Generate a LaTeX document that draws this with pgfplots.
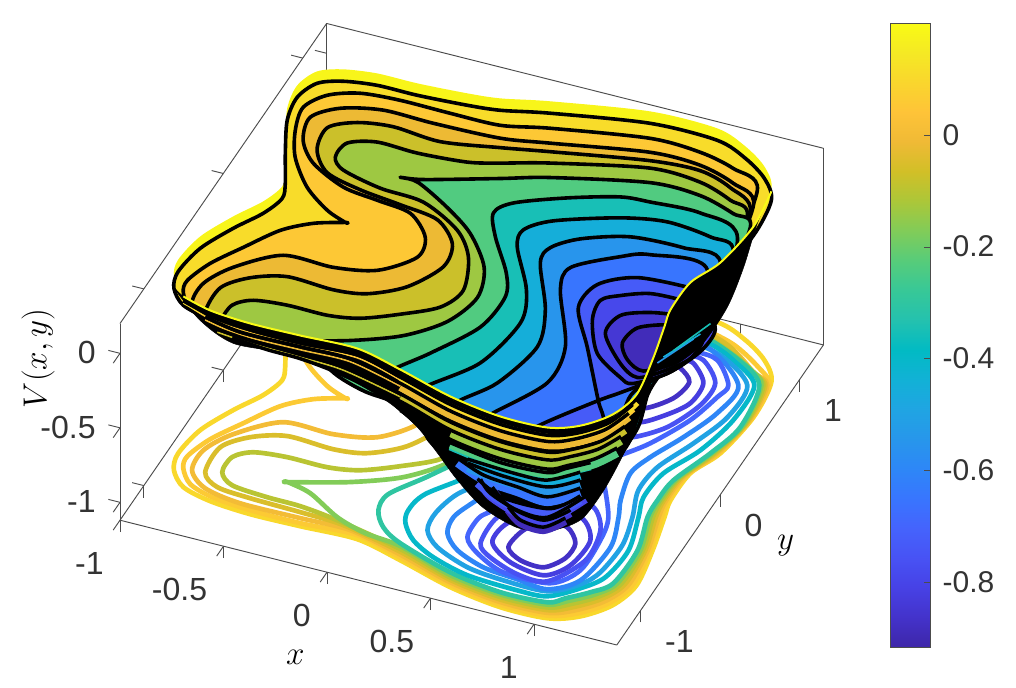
\documentclass[border=0pt]{standalone}
\usepackage{pgfplots}
\usepackage{pgfplotstable}
\usepackage{fontspec}
\setmainfont{Liberation Sans}
\pgfplotsset{compat=1.18}
\pgfplotsset{colormap={parula}{
rgb=(.2422,.1504,.6603) rgb=(.2647,.1978,.7952) rgb=(.2783,.2559,.8991) rgb=(.2810,.3228,.9579)
rgb=(.2699,.3892,.9906) rgb=(.2206,.4603,.9973) rgb=(.1786,.5289,.9682) rgb=(.1540,.5902,.9218)
rgb=(.1248,.6459,.8883) rgb=(.0689,.6948,.8394) rgb=(.0067,.7312,.7660) rgb=(.1408,.7584,.6842)
rgb=(.2161,.7843,.5923) rgb=(.3406,.8008,.4789) rgb=(.5044,.7993,.3480) rgb=(.6720,.7793,.2227)
rgb=(.8203,.7498,.1535) rgb=(.9393,.7288,.2100) rgb=(.9970,.7659,.2199) rgb=(.9786,.8386,.1766)
rgb=(.9597,.9135,.1423) rgb=(.9769,.9839,.0805)}}

% level curves of V, outermost first
\pgfplotstableread{
x y
-.92 -.83
-.95 -.70
-.925 -.486
-.846 -.277
-.765 -.11
-.729 .035
-.759 .152
-.844 .374
-.93 .622
-.954 .81
-.912 .95
-.81 1.014
-.658 1.047
-.466 1.048
-.231 1.067
-.081 1.091
.133 1.162
.574 1.273
.898 1.272
1.065 1.191
1.2 1.078
1.291 .929
1.317 .636
1.283 .309
1.216 .106
1.211 -.131
1.234 -.268
1.279 -.534
1.312 -.823
1.27 -1.014
1.169 -1.156
1.039 -1.231
.813 -1.237
.551 -1.182
.268 -1.076
.031 -1.0
-.241 -1.01
-.481 -1.014
-.682 -.992
-.833 -.938
}\tabA
\pgfplotstableread{
x y
-.887 -.798
-.904 -.702
-.858 -.534
-.767 -.354
-.663 -.16
-.547 -.047
-.418 .019
-.418 .019
-.526 .075
-.675 .208
-.809 .407
-.885 .606
-.918 .791
-.853 .925
-.723 1.001
-.539 1.023
-.296 1.02
-.056 1.024
.159 1.095
.599 1.206
.845 1.196
1.026 1.138
1.188 1.021
1.292 .902
1.313 .620
1.276 .306
1.208 .092
1.202 -.135
1.222 -.273
1.269 -.539
1.295 -.827
1.249 -1.005
1.15 -1.138
1.031 -1.211
.806 -1.218
.544 -1.164
.26 -1.055
.02 -.97
-.249 -.987
-.492 -.984
-.685 -.959
-.813 -.903
}\tabB
\pgfplotstableread{
x y
-.845 -.797
-.855 -.628
-.778 -.455
-.606 -.273
-.366 -.269
-.175 -.209
-.048 -.039
-.072 .124
-.201 .273
-.374 .308
-.551 .342
-.743 .463
-.85 .614
-.886 .797
-.788 .919
-.606 .985
-.363 .981
-.044 .995
.176 1.051
.613 1.169
.856 1.166
1.044 1.094
1.189 .969
1.283 .898
1.309 .604
1.269 .303
1.2 .078
1.193 -.139
1.21 -.278
1.259 -.544
1.278 -.832
1.228 -.996
1.131 -1.12
1.023 -1.191
.799 -1.199
.537 -1.146
.252 -1.034
-.023 -.946
-.263 -.95
-.553 -.952
-.74 -.906
}\tabC
\pgfplotstableread{
x y
-.785 -.788
-.794 -.575
-.699 -.445
-.549 -.368
-.323 -.38
-.172 -.346
-.027 -.22
.065 -.006
.037 .181
-.093 .331
-.289 .373
-.495 .409
-.68 .474
-.787 .625
-.807 .807
-.699 .9
-.538 .936
-.303 .913
-.039 .98
.179 1.043
.616 1.162
.851 1.181
1.023 1.111
1.176 .964
1.275 .895
1.305 .588
1.262 .3
1.192 .064
1.184 -.143
1.198 -.283
1.249 -.549
1.261 -.836
1.207 -.987
1.112 -1.102
1.015 -1.171
.792 -1.18
.53 -1.128
.244 -1.013
-.065 -.922
-.28 -.906
-.526 -.896
-.693 -.875
}\tabD
\pgfplotstableread{
x y
-.715 -.756
-.717 -.626
-.644 -.551
-.49 -.524
-.296 -.524
-.152 -.485
.001 -.381
.146 -.254
.193 -.087
.12 .167
-.003 .346
-.222 .49
-.439 .513
-.642 .578
-.712 .659
-.703 .785
-.582 .848
-.386 .841
-.155 .867
-.016 .921
.19 1.014
.616 1.162
.862 1.151
1.037 1.074
1.155 .98
1.267 .891
1.301 .572
1.255 .297
1.184 .05
1.175 -.147
1.186 -.288
1.239 -.554
1.244 -.841
1.186 -.978
1.093 -1.084
1.007 -1.151
.785 -1.161
.523 -1.11
.236 -.992
-.105 -.897
-.297 -.862
-.459 -.857
-.637 -.834
}\tabE
\pgfplotstableread{
x y
-.415 -.707
-.415 -.707
-.16 -.591
.045 -.456
.186 -.271
.242 -.039
.185 .196
.032 .421
-.137 .571
-.327 .702
-.408 .709
-.408 .709
-.308 .737
-.002 .884
.201 .984
.628 1.132
.871 1.129
1.058 1.057
1.167 .986
1.259 .887
1.297 .556
1.248 .294
1.176 .036
1.166 -.151
1.174 -.293
1.229 -.559
1.227 -.845
1.165 -.969
1.074 -1.066
.999 -1.131
.778 -1.142
.516 -1.092
.228 -.971
.047 -.941
-.113 -.875
-.292 -.748
}\tabF
\pgfplotstableread{
x y
.036 -.747
.031 -.61
.151 -.392
.283 -.107
.3 .161
.236 .341
.089 .587
.013 .76
.067 .871
.274 1.008
.49 1.114
.628 1.132
.865 1.144
1.086 1.036
1.25 .884
1.291 .538
1.242 .291
1.166 .022
1.157 -.155
1.164 -.299
1.217 -.562
1.211 -.85
1.142 -.959
1.056 -1.05
.993 -1.113
.771 -1.126
.508 -1.072
.22 -.95
.104 -.863
}\tabG
\pgfplotstableread{
x y
.184 -.792
.159 -.691
.183 -.541
.342 -.262
.394 .108
.325 .363
.165 .664
.142 .801
.24 .923
.508 1.07
.712 1.127
.932 1.096
1.072 1.02
1.23 .874
1.242 .577
1.192 .294
1.105 .055
1.091 -.159
1.127 -.316
1.18 -.579
1.161 -.82
1.089 -.949
.976 -1.069
.835 -1.081
.587 -1.062
.395 -.992
.265 -.904
}\tabH
\pgfplotstableread{
x y
.295 -.804
.279 -.663
.315 -.482
.427 -.268
.489 .073
.417 .361
.263 .699
.261 .829
.36 .95
.56 1.058
.809 1.076
1.005 1.033
1.201 .861
1.21 .588
1.144 .333
1.063 .088
1.05 -.117
1.102 -.327
1.14 -.553
1.126 -.793
1.078 -.919
.962 -1.032
.75 -1.033
.564 -1.003
.384 -.911
}\tabI
\pgfplotstableread{
x y
.385 -.788
.365 -.659
.398 -.532
.453 -.386
.59 -.064
.562 .236
.38 .647
.358 .829
.533 1.003
.65 1.073
.928 1.068
1.164 .845
1.156 .6
1.085 .359
1.005 .149
.969 -.006
1.005 -.223
1.045 -.353
1.097 -.59
1.067 -.89
.956 -1.017
.804 -.999
.63 -.974
.475 -.896
}\tabJ
% this level runs through the saddle between the wells
\pgfplotstableread{
x y
.479 -.781
.471 -.62
.51 -.533
.658 -.241
.808 .009
.877 .109
.966 .253
1.065 .498
1.111 .718
1.123 .826
1.006 .991
.882 1.013
.62 .99
.475 .864
.462 .659
.613 .38
.808 .009
.878 -.108
1.003 -.372
1.035 -.556
1.038 -.816
.951 -.967
.727 -.974
.566 -.881
}\tabK
\pgfplotstableread{
x y
.531 .656
.507 .819
.576 .892
.693 .962
.849 .973
.949 .965
1.063 .817
1.064 .627
.99 .403
.875 .264
.809 .286
.645 .421
}\tabLb
\pgfplotstableread{
x y
.648 -.427
.778 -.325
.913 -.325
1.007 -.482
1.031 -.732
.934 -.958
.79 -.962
.63 -.887
.55 -.801
.546 -.578
}\tabLa
\pgfplotstableread{
x y
.596 .65
.607 .811
.721 .888
.854 .922
.916 .924
1.014 .795
1.017 .623
.948 .488
.853 .384
.743 .456
}\tabMb
\pgfplotstableread{
x y
.714 -.476
.888 -.424
.994 -.575
.983 -.797
.901 -.921
.728 -.887
.596 -.772
.604 -.603
}\tabMa
\pgfplotstableread{
x y
.672 .666
.691 .805
.806 .883
.877 .863
.953 .777
.933 .628
.838 .498
.741 .551
}\tabNb
\pgfplotstableread{
x y
.758 -.526
.862 -.522
.941 -.625
.942 -.754
.878 -.862
.763 -.853
.676 -.779
.69 -.625
}\tabNa
% outer side of the bowl: rim in front, then the lower edge it shows
\pgfplotstableread{
x y z
1.291 .929 .16
1.317 .636 .16
1.283 .309 .16
1.216 .106 .16
1.211 -.131 .16
1.234 -.268 .16
1.279 -.534 .16
1.312 -.823 .16
1.27 -1.014 .16
1.169 -1.156 .16
1.039 -1.231 .16
.813 -1.237 .16
.551 -1.182 .16
.268 -1.076 .16
.031 -1.0 .16
-.241 -1.01 .16
-.481 -1.014 .16
-.682 -.992 .16
-.833 -.938 .16
-.91 -.878 .16
-.721 -1.018 .1
-.562 -1.016 0
-.35 -.938 -.05
-.166 -.916 -.1
-.008 -.896 -.17
.15 -.894 -.25
.307 -.963 -.3
.421 -1.007 -.4
.537 -1.059 -.5
.638 -.996 -.7
.81 -1.014 -.76
.878 -.862 -.87
.974 -.862 -.82
1.053 -.817 -.76
1.085 -.647 -.7
1.11 -.497 -.6
1.117 -.303 -.5
1.105 -.109 -.4
1.131 -.114 -.3
1.004 .495 -.76
1.119 .522 -.6
1.201 .61 -.4
1.253 .677 -.17
1.256 .843 0
}\tabWall

\newcommand{\floorline}[2]{\addplot3[color of colormap={#2 of parula},line width=3.5pt,smooth cycle,line join=round] table[x=x,y=y,z index=1,z expr=-1.12] {#1};}
\newcommand{\bowl}[4]{\addplot3[color of colormap={#3 of parula},fill=.,draw=black,line width=2.7pt,smooth cycle,line join=round,#4] table[x=x,y=y,z index=1,z expr=#2] {#1};}
\newcommand{\band}[5]{\addplot3[color of colormap={#3 of parula},line width=6pt,smooth,skip coords between index={0}{#4},skip coords between index={#5}{99}] table[x=x,y=y,z index=1,z expr=#2] {#1};}
\newcommand{\wline}[4]{\addplot3[black,line width=2.6pt,smooth,skip coords between index={0}{#3},skip coords between index={#4}{99}] table[x=x,y=y,z index=1,z expr=#2] {#1};}
\newcommand{\streak}[5]{\addplot3[color of colormap={#3 of parula},line width=1.2pt,smooth,skip coords between index={0}{#4},skip coords between index={#5}{99}] table[x=x,y=y,z index=1,z expr=#2] {#1};}

\begin{document}
\begin{tikzpicture}
\path[use as bounding box] (0,0) rectangle (762pt,516pt);
\begin{axis}[
at={(90pt,32.25pt)},anchor=south west,
x={(155.25pt,-39pt)},y={(59.6pt,86.55pt)},z={(0pt,111.75pt)},
xmin=-1,xmax=1.4,ymin=-1.3,ymax=1.3,zmin=-1.12,zmax=.2,
clip=false,
xtick={-1,-.5,0,.5,1},xticklabels={-1,-0.5,0,0.5,1},
ytick={-1,0,1},yticklabels={-1,0,1},
ztick={-1,-.5,0},zticklabels={-1,-0.5,0},
xtick pos=left,ytick pos=left,ztick pos=left,
tick align=outside,major tick length=9pt,
axis line style={black!70,line width=.7pt},tick style={black!70,line width=.7pt},
tick label style={font=\fontsize{24}{26}\selectfont,text=black!80,inner sep=0pt},
xticklabel style={anchor=north east,xshift=-7pt,yshift=-16.5pt},
yticklabel style={anchor=west,xshift=9.5pt,yshift=-21pt},
zticklabel style={anchor=east,xshift=-13pt,yshift=8pt},
xlabel={\fontsize{24}{26}\selectfont$x$},
ylabel={\fontsize{24}{26}\selectfont$y$},
zlabel={\fontsize{24}{26}\selectfont$V(x,y)$},
xlabel style={at={(axis cs:.111,-1.988,-1.12)},anchor=center,rotate=0},
ylabel style={at={(axis cs:1.812,-.25,-1.12)},anchor=center,rotate=0},
zlabel style={at={(axis cs:-1.797,-.255,-1.12)},anchor=center,rotate=0},
]
% contours on the floor
\floorline{\tabA}{911}
\floorline{\tabB}{875}
\floorline{\tabC}{821}
\floorline{\tabD}{776}
\floorline{\tabE}{731}
\floorline{\tabF}{668}
\floorline{\tabG}{552}
\floorline{\tabH}{462}
\floorline{\tabI}{373}
\floorline{\tabJ}{283}
\floorline{\tabK}{194}
\floorline{\tabLa}{140}
\floorline{\tabLb}{140}
\floorline{\tabMa}{86}
\floorline{\tabMb}{86}
\floorline{\tabNa}{41}
\floorline{\tabNb}{41}
% inside of the bowl, top down
\addplot3[color of colormap={985 of parula},fill=.,draw=none,smooth cycle] table[x=x,y=y,z index=1,z expr=.18] {\tabA};
\bowl{\tabA}{.1}{920}{}
\bowl{\tabB}{.06}{870}{skip coords between index={23}{25}}
\bowl{\tabC}{0}{805}{skip coords between index={23}{25}}
\bowl{\tabD}{-.05}{754}{skip coords between index={24}{26}}
\bowl{\tabE}{-.1}{700}{skip coords between index={25}{27}}
\bowl{\tabF}{-.17}{610}{skip coords between index={19}{21}}
\bowl{\tabG}{-.3}{507}{skip coords between index={14}{16},skip coords between index={27}{29}}
\bowl{\tabH}{-.4}{418}{skip coords between index={0}{1},skip coords between index={13}{15},skip coords between index={25}{27}}
\bowl{\tabI}{-.5}{328}{skip coords between index={12}{14},skip coords between index={24}{25}}
\bowl{\tabJ}{-.6}{238}{skip coords between index={11}{13}}
\bowl{\tabK}{-.7}{167}{skip coords between index={8}{10}}
\bowl{\tabLa}{-.76}{113}{}
\bowl{\tabLb}{-.76}{113}{}
\bowl{\tabMa}{-.82}{64}{}
\bowl{\tabMb}{-.82}{64}{}
\bowl{\tabNa}{-.87}{23}{}
\bowl{\tabNb}{-.87}{23}{}
% outside of the bowl
\addplot3[black,fill=black,smooth cycle] table[x=x,y=y,z=z] {\tabWall};
\streak{\tabI}{-.42}{328}{14}{16}
\streak{\tabH}{-.34}{418}{15}{17}
\streak{\tabG}{-.25}{507}{16}{18}
\streak{\tabD}{-.08}{754}{37}{42}
\streak{\tabC}{.01}{805}{36}{41}
\streak{\tabB}{.07}{870}{36}{42}
\streak{\tabA}{.115}{920}{34}{40}
\band{\tabNa}{-.87}{23}{3}{7}
\band{\tabMa}{-.77}{64}{3}{7}
\band{\tabLa}{-.71}{113}{4}{9}
\band{\tabK}{-.65}{167}{20}{24}
\band{\tabJ}{-.535}{238}{19}{24}
\band{\tabI}{-.455}{328}{20}{24}
\band{\tabH}{-.365}{418}{21}{25}
\band{\tabG}{-.275}{507}{22}{27}
\band{\tabF}{-.245}{610}{26}{32}
\band{\tabE}{-.16}{700}{32}{38}
\band{\tabD}{-.085}{754}{31}{38}
\band{\tabC}{.005}{805}{30}{37}
\band{\tabB}{.065}{870}{30}{37}
\band{\tabA}{.11}{920}{28}{35}
\wline{\tabNa}{-.85}{3}{7}
\wline{\tabMa}{-.75}{3}{7}
\wline{\tabLa}{-.69}{4}{9}
\wline{\tabK}{-.62}{20}{24}
\wline{\tabJ}{-.5}{19}{24}
\wline{\tabI}{-.42}{20}{24}
\wline{\tabH}{-.34}{21}{25}
\wline{\tabG}{-.25}{22}{27}
\wline{\tabF}{-.21}{26}{33}
\wline{\tabE}{-.13}{32}{43}
\wline{\tabD}{-.06}{31}{42}
\wline{\tabC}{.03}{30}{41}
\wline{\tabB}{.09}{30}{42}
\wline{\tabA}{.13}{28}{40}
\addplot3[color of colormap={1000 of parula},line width=1.5pt,smooth,skip coords between index={0}{21}] table[x=x,y=y,z index=1,z expr=.16] {\tabA};
\end{axis}
% colour bar
\begin{axis}[
at={(667.5pt,30.75pt)},anchor=south west,
width=30pt,height=468pt,scale only axis,
xmin=0,xmax=1,ymin=-.916,ymax=.2,
xtick=\empty,ytick={-.8,-.6,-.4,-.2,0},yticklabels={-0.8,-0.6,-0.4,-0.2,0},
ytick pos=right,yticklabel pos=right,tick align=inside,major tick length=4.5pt,
axis line style={black!70},tick style={black!70},
tick label style={font=\fontsize{22.5}{24}\selectfont,text=black!80},
yticklabel style={xshift=6pt},
axis on top,
]
\addplot[surf,shader=interp,mesh/rows=2,point meta=y] coordinates {(0,-.916) (1,-.916) (0,.2) (1,.2)};
\end{axis}
\end{tikzpicture}
\end{document}
